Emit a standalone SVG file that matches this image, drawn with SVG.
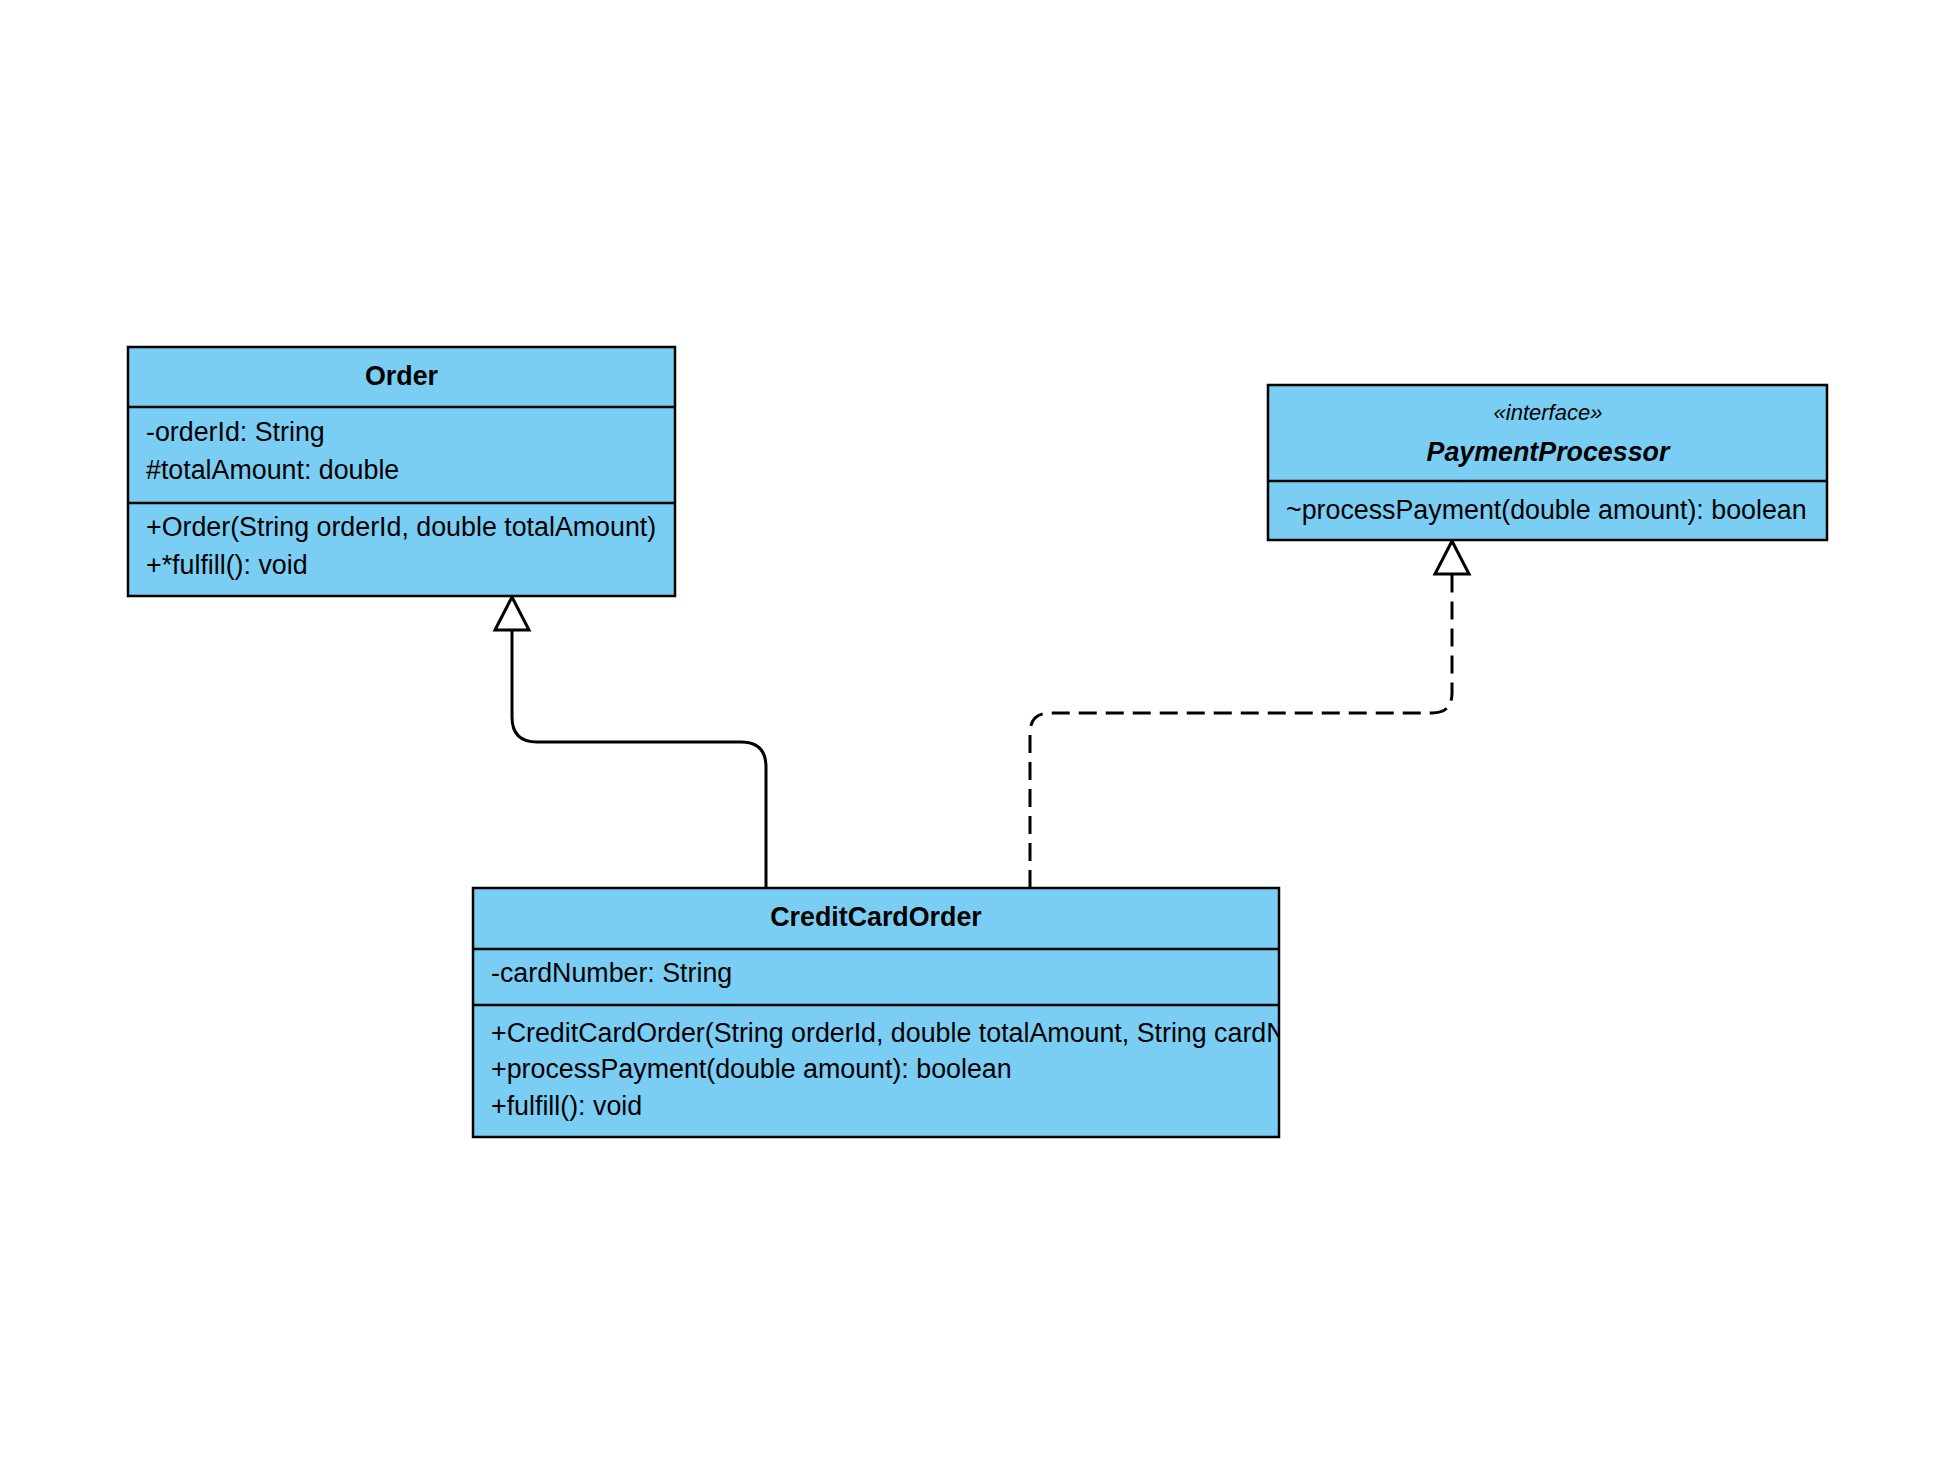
<svg xmlns="http://www.w3.org/2000/svg" width="1954" height="1484" viewBox="0 0 1954 1484">
<style>
.box{fill:#7ACEF4;stroke:#000;stroke-width:2.5}
.div{stroke:#000;stroke-width:2.5}
.t{font-family:"Liberation Sans",Arial,sans-serif;font-size:26.8px;fill:#000}
.title{font-weight:bold;text-anchor:middle}
.conn{fill:none;stroke:#000;stroke-width:3}
.dash{stroke-dasharray:18 9}
</style>
<defs>
<marker id="tri" markerUnits="userSpaceOnUse" markerWidth="40" markerHeight="40" viewBox="-2 -20 38 40" refX="33" refY="0" orient="auto">
<path d="M0,-17 L33,0 L0,17 Z" fill="#fff" stroke="#000" stroke-width="3" stroke-linejoin="miter"/>
</marker>
<clipPath id="ccoClip"><rect x="473" y="888" width="806" height="249"/></clipPath>
</defs>
<rect width="1954" height="1484" fill="#fff"/>
<g id="connectors">
<path class="conn" d="M766,888 L766,767 Q766,742 741,742 L537,742 Q512,742 512,717 L512,597" marker-end="url(#tri)"/>
<path class="conn dash" d="M1030,888 L1030,733 Q1030,713 1050,713 L1432,713 Q1452,713 1452,693 L1452,541" marker-end="url(#tri)"/>
</g>
<g id="Order">
<rect class="box" x="128" y="347" width="547" height="249"/>
<line class="div" x1="128" y1="407" x2="675" y2="407"/>
<line class="div" x1="128" y1="503" x2="675" y2="503"/>
<text class="t title" x="401.5" y="385">Order</text>
<text class="t" x="146" y="441">-orderId: String</text>
<text class="t" x="146" y="479">#totalAmount: double</text>
<text class="t" x="146" y="536">+Order(String orderId, double totalAmount)</text>
<text class="t" x="146" y="574">+*fulfill(): void</text>
</g>
<g id="PaymentProcessor">
<rect class="box" x="1268" y="385" width="559" height="155"/>
<line class="div" x1="1268" y1="481" x2="1827" y2="481"/>
<text class="t" x="1548" y="420" font-style="italic" text-anchor="middle" style="font-size:22px">«interface»</text>
<text class="t title" x="1548" y="461" font-style="italic">PaymentProcessor</text>
<text class="t" x="1286" y="519">~processPayment(double amount): boolean</text>
</g>
<g id="CreditCardOrder">
<rect class="box" x="473" y="888" width="806" height="249"/>
<line class="div" x1="473" y1="949" x2="1279" y2="949"/>
<line class="div" x1="473" y1="1005" x2="1279" y2="1005"/>
<text class="t title" x="876" y="926">CreditCardOrder</text>
<text class="t" x="491" y="982">-cardNumber: String</text>
<g clip-path="url(#ccoClip)">
<text class="t" x="491" y="1042">+CreditCardOrder(String orderId, double totalAmount, String cardNumber)</text>
</g>
<text class="t" x="491" y="1078">+processPayment(double amount): boolean</text>
<text class="t" x="491" y="1115">+fulfill(): void</text>
</g>
</svg>
